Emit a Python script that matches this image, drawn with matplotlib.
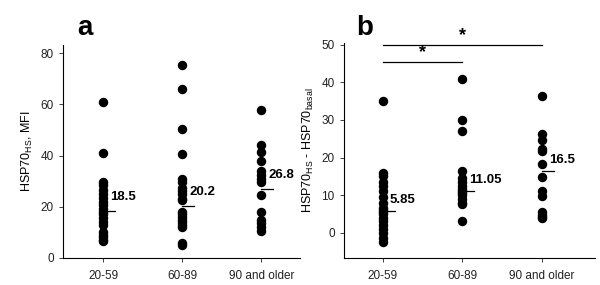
import matplotlib
matplotlib.use("Agg")
import matplotlib.pyplot as plt

plt.rcParams['font.family'] = ['Liberation Sans', 'DejaVu Sans']

groups = ['20-59', '60-89', '90 and older']

# panel a: HSP70 HS, MFI
a_g1 = [61, 41, 29.5, 28.5, 26.5, 25, 23.5, 22, 20.5, 19, 18, 17, 15.5, 14, 13, 10, 9, 8, 7, 6.5]
a_g2 = [75.5, 66, 50.5, 40.5, 31, 29.5, 27.5, 26, 25, 23, 22.5, 18, 17, 16, 15, 14, 13, 12, 6, 5]
a_g3 = [58, 44, 41.5, 38, 34, 32.5, 31, 29.5, 24.5, 18, 15, 13.5, 12, 10.5]
a_medians = [18.5, 20.2, 26.8]

# panel b: HSP70 HS - HSP70 basal
b_g1 = [35, 16, 15, 13.5, 12.5, 11, 9.5, 8, 6.5, 6, 5.5, 5, 4, 3, 2, 1, 0, -1.5, -2.5]
b_g2 = [41, 30, 27, 16.5, 14.5, 13.5, 12.5, 11.5, 11, 10.5, 10, 9, 8, 7.5, 3]
b_g3 = [36.5, 26.3, 24.8, 22.3, 21.8, 18.3, 14.7, 11, 9.7, 5.4, 4.8, 4.2, 3.8]
b_medians = [5.85, 11.05, 16.5]
b_median_labels = ['5.85', '11.05', '16.5']

fig = plt.figure(figsize=(6, 2.85), dpi=100)
ax1 = fig.add_axes([0.105, 0.095, 0.395, 0.747])
ax2 = fig.add_axes([0.573, 0.095, 0.419, 0.754])


def draw_panel(ax, data, medians, labels, offset):
    for i, vals in enumerate(data):
        x = i + 1
        ax.plot([x] * len(vals), vals, 'o', color='black', markersize=5.8, zorder=3)
        ax.plot([x, x + 0.15], [medians[i], medians[i]], color='black', lw=0.9, zorder=2)
        ax.text(x + 0.09, medians[i] + offset, labels[i], fontsize=9.5, fontweight='bold',
                ha='left', va='center')
    ax.set_xticks([1, 2, 3])
    ax.set_xticklabels(groups, fontsize=8.5, color='#222222')
    ax.spines['top'].set_visible(False)
    ax.spines['right'].set_visible(False)
    ax.tick_params(axis='both', length=3, width=0.6, labelsize=8.5, colors='#222222')
    ax.tick_params(axis='x', pad=6)


draw_panel(ax1, [a_g1, a_g2, a_g3], a_medians, ['18.5', '20.2', '26.8'], 5.5)
ax1.set_xlim(0.49, 3.49)
ax1.set_ylim(0, 83.2)
ax1.set_yticks([0, 20, 40, 60, 80])
ax1.set_ylabel('HSP70$_{\\mathregular{HS}}$, MFI', fontsize=9)

draw_panel(ax2, [b_g1, b_g2, b_g3], b_medians, b_median_labels, 2.9)
ax2.set_xlim(0.51, 3.67)
ax2.set_ylim(-6.74, 50.5)
ax2.set_yticks([0, 10, 20, 30, 40, 50])
ax2.set_ylabel('HSP70$_{\\mathregular{HS}}$ - HSP70$_{\\mathregular{basal}}$', fontsize=9)

# significance bars
ax2.plot([1, 3], [50, 50], color='black', lw=0.9, clip_on=False)
ax2.text(2, 50.3, '*', fontsize=13, fontweight='bold', ha='center', va='bottom')
ax2.plot([1, 2], [45.5, 45.5], color='black', lw=0.9, clip_on=False)
ax2.text(1.5, 45.8, '*', fontsize=13, fontweight='bold', ha='center', va='bottom')

fig.text(85 / 600, 1 - 28 / 285, 'a', fontsize=20, fontweight='bold', ha='center', va='center')
fig.text(365 / 600, 1 - 28 / 285, 'b', fontsize=20, fontweight='bold', ha='center', va='center')

fig.savefig('out.png', dpi=100)
